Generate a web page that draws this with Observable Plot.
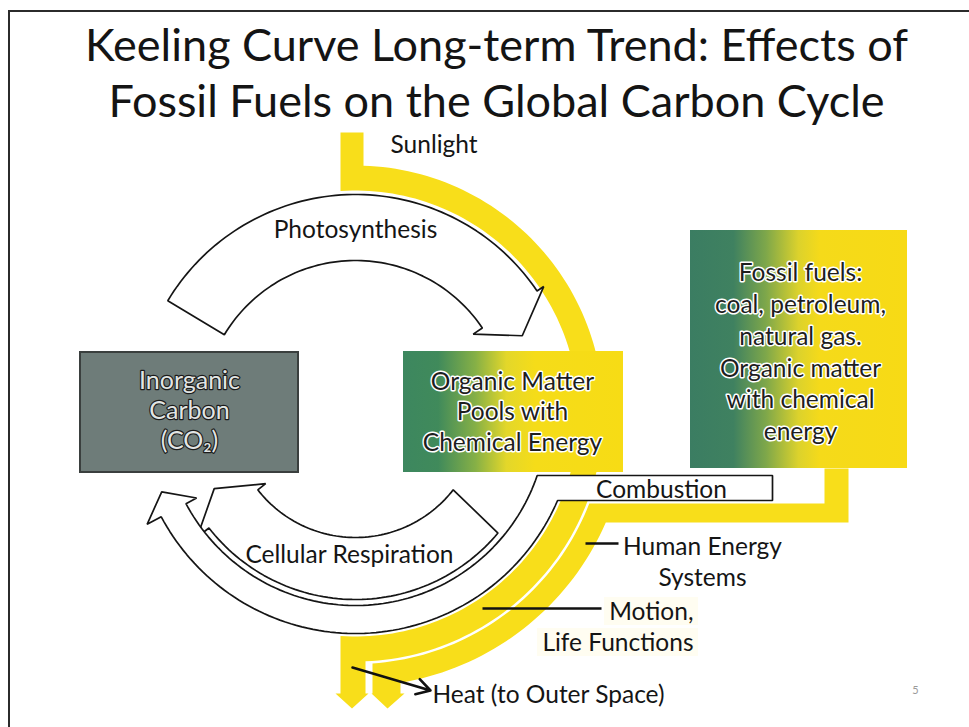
<!DOCTYPE html>
<html>
<head>
<meta charset="utf-8">
<script src="https://cdn.jsdelivr.net/npm/d3@7"></script>
<script src="https://cdn.jsdelivr.net/npm/@observablehq/plot@0.6"></script>
<style>
  html, body { margin: 0; padding: 0; background: #fff; }
  #wrap { position: relative; width: 969px; height: 727px; overflow: hidden; background: #fff; }
  #frame { position: absolute; left: 8px; top: 10px; width: 970px; height: 730px; z-index: 3; pointer-events: none;
           border-top: 2px solid #2b2b2b; border-left: 2px solid #2b2b2b; box-sizing: border-box; }
  #title { position: absolute; left: 12px; top: 16px; width: 969px; margin: 0;
           text-align: center; font-family: Lato, "Open Sans", sans-serif; font-weight: 400;
           font-size: 45px; line-height: 56px; color: #141414; }
  #chart { position: absolute; left: 0; top: 128px; }
</style>
</head>
<body>
<div id="wrap">
  <h1 id="title"></h1>
  <div id="chart"></div>
  <div id="frame"></div>
</div>
<script>
// ---------- text content ----------
const titleLines = ["Keeling Curve Long-term Trend: Effects of", "Fossil Fuels on the Global Carbon Cycle"];

const poolNames = ["Inorganic\nCarbon\n(CO\u2082)", "Organic Matter\nPools with\nChemical Energy",
  "Fossil fuels:\ncoal, petroleum,\nnatural gas.\nOrganic matter\nwith chemical\nenergy"];
const poolX1 = [80, 403, 690];
const poolX2 = [298, 623, 907];
const poolY1 = [352, 351, 230];
const poolY2 = [472, 472, 468];
const poolLabelX = [189, 512, 800];
const poolLabelY = [409, 410, 350];

const flowLabels = ["Sunlight", "Photosynthesis", "Combustion", "Cellular Respiration",
  "Human Energy\nSystems", "Motion,\nLife Functions", "Heat (to Outer Space)"];
const flowLabelX = [390, 355, 661, 349, 702, 693, 432];
const flowLabelY = [143, 228, 488, 553, 560, 625, 693];
const flowAnchor = ["start", "middle", "middle", "middle", "middle", "end", "start"];

// leader lines to labels
const leaderX1 = [585, 482];
const leaderX2 = [618, 601];
const leaderY = [543, 608];
const heatLeader = [{x1: 352, y1: 667, x2: 430, y2: 690}];

// pale highlight behind "Motion, Life Functions"
const hiX1 = [604, 537], hiX2 = [698, 698], hiY1 = [597, 628], hiY2 = [625, 656];

// ---------- flow geometry (cycle centre, radii, angles in degrees) ----------
const centre = [355, 413];
const photoRadii = [153, 219], photoAngles = [-149, -34], photoTip = [184, -25];
const respInRadii = [124, 186], respInAngles = [38, 142], respInTip = [160, 152];
const respOutRadii = [192, 220], respOutHead = 152, respOutTip = [209, 158];
const combustionY = [475, 500], combustionRight = 772;
const sunRadii = [223, 248], sunShaft = [340, 363], sunTop = 132;
const heatShaftA = [340, 365], heatShaftB = [372, 400], heatBase = 693, heatTip = 708;
const fossilRadii = [250.5, 273], fossilShaft = [824, 848], fossilBandY = [503, 522], fossilTop = 468;

const deg = Math.PI / 180;
const P = (r, a) => ({x: centre[0] + r * Math.cos(a * deg), y: centre[1] + r * Math.sin(a * deg)});
const arc = (r, a0, a1) => {
  const n = Math.max(2, Math.ceil(Math.abs(a1 - a0) / 1.5));
  return d3.range(n + 1).map(i => P(r, a0 + (a1 - a0) * i / n));
};
const angX = (r, x, s) => s * Math.acos((x - centre[0]) / r) / deg;
const angY = (r, y) => Math.asin((y - centre[1]) / r) / deg;

const sunBand = [
  {x: sunShaft[0], y: sunTop}, {x: sunShaft[1], y: sunTop},
  ...arc(sunRadii[1], angX(sunRadii[1], sunShaft[1], -1), angX(sunRadii[1], heatShaftA[1], 1)),
  {x: heatShaftA[1], y: heatBase}, {x: heatShaftA[1] + 3, y: heatBase},
  {x: (heatShaftA[0] + heatShaftA[1]) / 2 - 1, y: heatTip},
  {x: heatShaftA[0] - 5, y: heatBase}, {x: heatShaftA[0], y: heatBase},
  ...arc(sunRadii[0], angX(sunRadii[0], heatShaftA[0], 1), angX(sunRadii[0], sunShaft[0], -1))
];

const fossilBand = [
  {x: fossilShaft[1], y: fossilTop}, {x: fossilShaft[1], y: fossilBandY[1]},
  ...arc(fossilRadii[1], angY(fossilRadii[1], fossilBandY[1]), angX(fossilRadii[1], heatShaftB[1], 1)),
  {x: heatShaftB[1], y: heatBase}, {x: heatShaftB[1] + 4, y: heatBase},
  {x: (heatShaftB[0] + heatShaftB[1]) / 2 + 1, y: heatTip},
  {x: heatShaftB[0] - 1, y: heatBase}, {x: heatShaftB[0], y: heatBase},
  ...arc(fossilRadii[0], angX(fossilRadii[0], heatShaftB[0], 1), angY(fossilRadii[0], fossilBandY[0])),
  {x: fossilShaft[0], y: fossilBandY[0]}, {x: fossilShaft[0], y: fossilTop}
];

const photoArrow = [
  ...arc(photoRadii[1], photoAngles[0], photoAngles[1]),
  P(photoRadii[1] + 8, photoAngles[1]), P(photoTip[0], photoTip[1]), P(photoRadii[0] - 11, photoAngles[1]),
  ...arc(photoRadii[0], photoAngles[1], photoAngles[0])
];

const respInArrow = [
  ...arc(respInRadii[1], respInAngles[0] + 2, respInAngles[1]),
  P(respInRadii[1] + 15, respInAngles[1]), P(respInTip[0], respInTip[1]), P(respInRadii[0] - 10, respInAngles[1]),
  ...arc(respInRadii[0], respInAngles[1], respInAngles[0])
];

const respOutArrow = [
  {x: combustionRight, y: combustionY[0]},
  ...arc(respOutRadii[0], angY(respOutRadii[0], combustionY[0]), respOutHead),
  P(respOutRadii[0] - 12, respOutHead), P(respOutTip[0], respOutTip[1]), P(respOutRadii[1] + 16, respOutHead),
  ...arc(respOutRadii[1], respOutHead, angY(respOutRadii[1], combustionY[1])),
  {x: combustionRight, y: combustionY[1]}
];

// ---------- tables for marks ----------
const pools = poolNames.map((name, i) => ({name, x1: poolX1[i], x2: poolX2[i], y1: poolY1[i], y2: poolY2[i],
  lx: poolLabelX[i], ly: poolLabelY[i]}));
const labels = flowLabels.map((t, i) => ({t, x: flowLabelX[i], y: flowLabelY[i], anchor: flowAnchor[i]}));
const leaders = leaderY.map((y, i) => ({x1: leaderX1[i], x2: leaderX2[i], y}));
const highlights = hiX1.map((x, i) => ({x1: x, x2: hiX2[i], y1: hiY1[i], y2: hiY2[i]}));

const YELLOW = "#f8de1a";
const FONT = "Lato, 'Open Sans', sans-serif";
const outline = {fill: "#fff", stroke: "#151515", strokeWidth: 1.7, curve: "linear-closed", strokeLinejoin: "miter"};

document.getElementById("title").innerHTML = titleLines.join("<br>");

const chart = Plot.plot({
  width: 969, height: 599, margin: 0,
  x: {domain: [0, 969], range: [0, 969], axis: null},
  y: {domain: [128, 727], range: [0, 599], axis: null},
  style: {background: "#fff", overflow: "visible"},
  marks: [
    Plot.line(fossilBand, {x: "x", y: "y", fill: YELLOW, stroke: "none", curve: "linear-closed"}),
    Plot.line(sunBand, {x: "x", y: "y", fill: YELLOW, stroke: "none", curve: "linear-closed"}),
    Plot.line(photoArrow, {x: "x", y: "y", ...outline}),
    Plot.line(respInArrow, {x: "x", y: "y", ...outline}),
    Plot.line(respOutArrow, {x: "x", y: "y", ...outline}),
    Plot.rect(pools.slice(0, 1), {x1: "x1", x2: "x2", y1: "y1", y2: "y2", fill: "#6e7c79", stroke: "#3a3f3e", strokeWidth: 2}),
    Plot.rect(pools.slice(1, 2), {x1: "x1", x2: "x2", y1: "y1", y2: "y2", fill: "url(#gOrganic)"}),
    Plot.rect(pools.slice(2, 3), {x1: "x1", x2: "x2", y1: "y1", y2: "y2", fill: "url(#gFossil)"}),
    Plot.rect(highlights, {x1: "x1", x2: "x2", y1: "y1", y2: "y2", fill: "#fffbe6", fillOpacity: 0.55}),
    Plot.text(pools.slice(0, 1), {x: "lx", y: "ly", text: "name", fontFamily: FONT, fontSize: 25, lineHeight: 1.2,
      fill: "#e2e5e4", stroke: "#1b1b1b", strokeWidth: 2.4, paintOrder: "stroke"}),
    Plot.text(pools.slice(1, 2), {x: "lx", y: "ly", text: "name", fontFamily: FONT, fontSize: 24.5, lineHeight: 1.24,
      fill: "#1e1e1e", stroke: "#fff", strokeWidth: 3, paintOrder: "stroke"}),
    Plot.text(pools.slice(2, 3), {x: "lx", y: "ly", text: "name", fontFamily: FONT, fontSize: 24.5, lineHeight: 1.3,
      fill: "#1e1e1e", stroke: "#fff", strokeWidth: 3, paintOrder: "stroke"}),
    Plot.link(leaders, {x1: "x1", x2: "x2", y1: "y", y2: "y", stroke: "#111", strokeWidth: 2.6}),
    Plot.arrow(heatLeader, {x1: "x1", y1: "y1", x2: "x2", y2: "y2", stroke: "#111", strokeWidth: 2.6, headLength: 9, bend: 0}),
    ...["start", "middle", "end"].map(a => Plot.text(labels.filter(d => d.anchor === a),
      {x: "x", y: "y", text: "t", textAnchor: a, fontFamily: FONT, fontSize: 24.5, lineHeight: 1.27, fill: "#151515"})),
    Plot.text(["5"], {x: 915, y: 690, fontFamily: FONT, fontSize: 11, fill: "#9a9a9a"})
  ]
});

const svg = d3.select(chart);
const defs = svg.insert("defs", ":first-child");
const grads = [
  {id: "gOrganic", stops: [[0, "#3d875f"], [0.16, "#408a5b"], [0.33, "#86b046"], [0.47, "#e3d72a"], [0.6, "#f5dc19"], [1, "#f7dc15"]]},
  {id: "gFossil", stops: [[0, "#3b7d62"], [0.2, "#3f8160"], [0.35, "#7ea74a"], [0.5, "#dcd22c"], [0.6, "#f5da1a"], [1, "#f7da15"]]}
];
for (const g of grads) {
  const lg = defs.append("linearGradient").attr("id", g.id).attr("x1", "0").attr("x2", "1").attr("y1", "0").attr("y2", "0");
  for (const [o, c] of g.stops) lg.append("stop").attr("offset", o).attr("stop-color", c);
}
document.getElementById("chart").appendChild(chart);
</script>
</body>
</html>
